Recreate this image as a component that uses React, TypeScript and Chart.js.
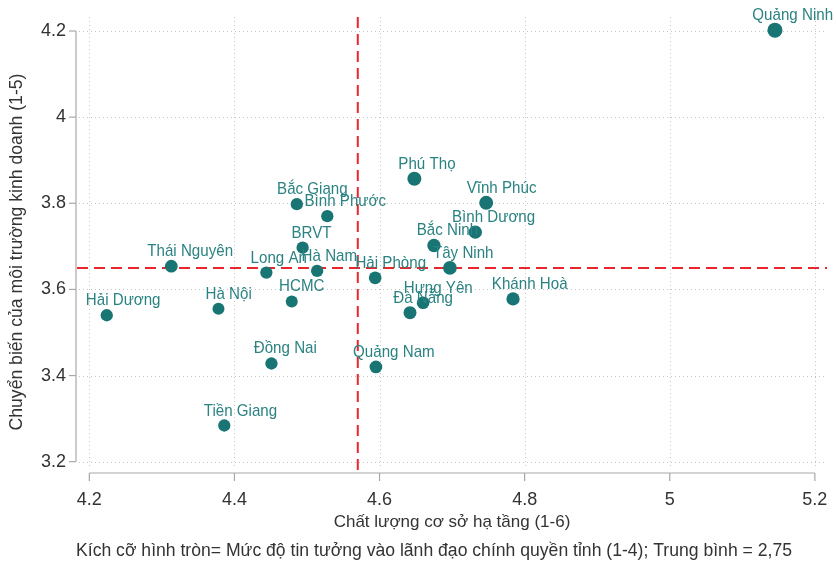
import React, { useEffect, useRef } from "react";
import { Chart, registerables } from "chart.js";

Chart.register(...registerables);

const provinces = [
  "Quảng Ninh", "Phú Thọ", "Vĩnh Phúc", "Bình Dương", "Bắc Ninh", "Tây Ninh",
  "Hải Phòng", "Hưng Yên", "Đà Nẵng", "Khánh Hoà", "Bình Phước", "Bắc Giang",
  "BRVT", "Hà Nam", "Long An", "HCMC", "Thái Nguyên", "Hà Nội", "Hải Dương",
  "Đồng Nai", "Quảng Nam", "Tiền Giang",
];
const infrastructure = [
  5.145, 4.648, 4.747, 4.732, 4.675, 4.697,
  4.594, 4.66, 4.642, 4.784, 4.528, 4.486,
  4.494, 4.514, 4.444, 4.479, 4.313, 4.378, 4.224,
  4.451, 4.595, 4.386,
];
const businessEnv = [
  4.202, 3.857, 3.801, 3.733, 3.702, 3.65,
  3.627, 3.569, 3.546, 3.578, 3.77, 3.798,
  3.697, 3.643, 3.639, 3.572, 3.654, 3.555, 3.54,
  3.428, 3.42, 3.284,
];
const trust = [
  3.66, 3.19, 3.19, 2.88, 2.88, 3.05,
  2.62, 2.62, 2.75, 2.88, 2.46, 2.46,
  2.46, 2.46, 2.46, 2.34, 2.62, 2.34, 2.46,
  2.46, 2.62, 2.46,
];
const xTicks = [4.2, 4.4, 4.6, 4.8, 5, 5.2];
const yTicks = [3.2, 3.4, 3.6, 3.8, 4, 4.2];
const meanInfrastructure = 4.57;
const meanBusinessEnv = 3.65;
const meanTrust = 2.75;
const xTitle = "Chất lượng cơ sở hạ tầng (1-6)";
const yTitle = "Chuyển biến của môi trường kinh doanh (1-5)";
const caption =
  "Kích cỡ hình tròn= Mức độ tin tưởng vào lãnh đạo chính quyền tỉnh (1-4); Trung bình = 2,75";

const TEAL = "#187574";
const LABEL_TEAL = "#2a8282";
const AXIS_FONT = '"Liberation Sans", Arial, sans-serif';
const LABEL_FONT = '"Liberation Sans", Arial, sans-serif';
const LABEL_STRETCH = 0.89;

const fmt = (v: number) => String(Math.round(v * 10) / 10);

const decor = {
  id: "decor",
  beforeDatasetsDraw(chart: any) {
    const { ctx, chartArea: a, scales } = chart;
    const x = scales.x;
    const y = scales.y;
    ctx.save();
    // grid
    ctx.strokeStyle = "#c4c4c4";
    ctx.lineWidth = 1;
    ctx.setLineDash([1, 3]);
    yTicks.forEach((t) => {
      const py = Math.round(y.getPixelForValue(t)) + 0.5;
      ctx.beginPath();
      ctx.moveTo(a.left + 2, py);
      ctx.lineTo(a.right, py);
      ctx.stroke();
    });
    xTicks.forEach((t) => {
      const px = Math.round(x.getPixelForValue(t)) + 0.5;
      ctx.beginPath();
      ctx.moveTo(px, a.top);
      ctx.lineTo(px, a.bottom);
      ctx.stroke();
    });
    // mean lines
    ctx.strokeStyle = "#e8262b";
    ctx.lineWidth = 2;
    ctx.setLineDash([11, 6]);
    const mx = x.getPixelForValue(meanInfrastructure);
    ctx.beginPath();
    ctx.moveTo(mx, a.top);
    ctx.lineTo(mx, a.bottom + 7);
    ctx.stroke();
    const my = y.getPixelForValue(meanBusinessEnv);
    ctx.beginPath();
    ctx.moveTo(a.left, my);
    ctx.lineTo(a.right + 2, my);
    ctx.stroke();
    ctx.restore();
  },
  afterDatasetsDraw(chart: any) {
    const { ctx } = chart;
    const meta = chart.getDatasetMeta(0);
    ctx.save();
    ctx.font = `17px ${LABEL_FONT}`;
    ctx.fillStyle = LABEL_TEAL;
    ctx.textAlign = "left";
    ctx.textBaseline = "alphabetic";
    meta.data.forEach((el: any, i: number) => {
      const w = ctx.measureText(provinces[i]).width * LABEL_STRETCH;
      ctx.save();
      ctx.translate(el.x - 0.28 * w, el.y - 10);
      ctx.scale(LABEL_STRETCH, 1);
      ctx.fillText(provinces[i], 0, 0);
      ctx.restore();
    });
    ctx.restore();
  },
  afterDraw(chart: any) {
    const { ctx, chartArea: a, scales } = chart;
    const x = scales.x;
    const y = scales.y;
    ctx.save();
    ctx.strokeStyle = "#a8a8a8";
    ctx.lineWidth = 1.2;
    ctx.setLineDash([]);
    // y axis
    const ax = a.left - 1;
    ctx.beginPath();
    ctx.moveTo(ax, y.getPixelForValue(yTicks[yTicks.length - 1]));
    ctx.lineTo(ax, y.getPixelForValue(yTicks[0]));
    ctx.stroke();
    yTicks.forEach((t) => {
      const py = y.getPixelForValue(t);
      ctx.beginPath();
      ctx.moveTo(ax - 7, py);
      ctx.lineTo(ax, py);
      ctx.stroke();
    });
    // x axis
    const ay = a.bottom + 7;
    ctx.beginPath();
    ctx.moveTo(x.getPixelForValue(xTicks[0]), ay);
    ctx.lineTo(x.getPixelForValue(xTicks[xTicks.length - 1]), ay);
    ctx.stroke();
    xTicks.forEach((t) => {
      const px = x.getPixelForValue(t);
      ctx.beginPath();
      ctx.moveTo(px, ay);
      ctx.lineTo(px, ay + 8);
      ctx.stroke();
    });
    // tick labels
    ctx.fillStyle = "#333333";
    ctx.font = `18px ${AXIS_FONT}`;
    ctx.textAlign = "right";
    ctx.textBaseline = "middle";
    yTicks.forEach((t) => {
      ctx.fillText(fmt(t), ax - 10, y.getPixelForValue(t));
    });
    ctx.textAlign = "center";
    ctx.textBaseline = "middle";
    xTicks.forEach((t) => {
      ctx.fillText(fmt(t), x.getPixelForValue(t), ay + 27);
    });
    // titles
    ctx.font = `17px ${AXIS_FONT}`;
    ctx.fillText(xTitle, (a.left + a.right) / 2 + 1, 522);
    ctx.font = `17.6px ${AXIS_FONT}`;
    ctx.fillText(caption, 434, 551);
    ctx.save();
    ctx.translate(17, 252);
    ctx.rotate(-Math.PI / 2);
    ctx.fillText(yTitle, 0, 0);
    ctx.restore();
    ctx.restore();
  },
};

export default function App() {
  const ref = useRef<HTMLCanvasElement | null>(null);
  useEffect(() => {
    document.body.style.margin = "0";
    const canvas = ref.current;
    if (!canvas) return;
    const points = infrastructure.map((v, i) => ({ x: v, y: businessEnv[i] }));
    const radii = trust.map((t) => 6.5 * Math.sqrt(t / meanTrust));
    const chart = new Chart(canvas, {
      type: "scatter",
      data: {
        datasets: [
          {
            data: points,
            backgroundColor: TEAL,
            borderWidth: 0,
            pointRadius: radii,
            pointHoverRadius: radii,
            clip: false as any,
          },
        ],
      },
      options: {
        animation: false,
        responsive: false,
        maintainAspectRatio: false,
        layout: { padding: { left: 77, top: 17, right: 11, bottom: 101 } },
        plugins: {
          legend: { display: false },
          tooltip: { enabled: false },
        },
        events: [],
        scales: {
          x: { type: "linear", display: false, min: 4.183, max: 5.214 },
          y: { type: "linear", display: false, min: 3.19, max: 4.2325 },
        },
      },
      plugins: [decor],
    });
    return () => chart.destroy();
  }, []);
  return (
    <div style={{ width: 836, height: 567 }}>
      <canvas ref={ref} width={836} height={567} style={{ display: "block" }} />
    </div>
  );
}
